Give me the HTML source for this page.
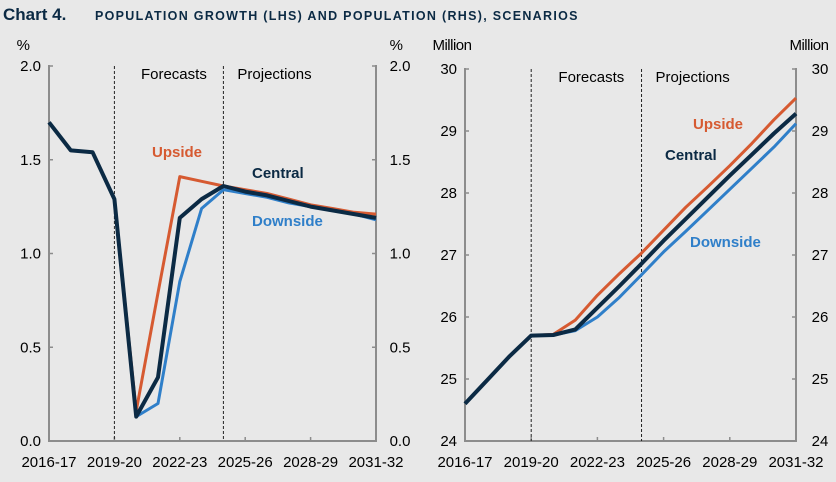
<!DOCTYPE html>
<html><head><meta charset="utf-8">
<style>
body{margin:0;background:#e8e8e8;}
svg{display:block;font-family:"Liberation Sans",Arial,sans-serif;}
.t{font-size:15px;fill:#000}
</style></head>
<body>
<svg id="c" width="836" height="482" viewBox="0 0 836 482">
<rect width="836" height="482" fill="#e8e8e8"/>
<text x="3" y="20" font-size="17" font-weight="bold" fill="#0b2a44">Chart 4.</text>
<text x="95" y="20" font-size="12.5" font-weight="bold" fill="#0b2a44" letter-spacing="1.3">POPULATION GROWTH (LHS) AND POPULATION (RHS), SCENARIOS</text>
<g id="L"></g>
<g id="R"></g>
</svg>
<script>
const years=["2016-17","2017-18","2018-19","2019-20","2020-21","2021-22","2022-23","2023-24","2024-25","2025-26","2026-27","2027-28","2028-29","2029-30","2030-31","2031-32"];
const xTickLabels=["2016-17","2019-20","2022-23","2025-26","2028-29","2031-32"];
const growthTicks=["0.0","0.5","1.0","1.5","2.0"];
const popTicks=["24","25","26","27","28","29","30"];
const growthCentral=[1.70,1.55,1.54,1.29,0.13,0.34,1.19,1.29,1.36,1.33,1.31,1.28,1.25,1.23,1.21,1.19];
const growthUpside=[null,null,null,1.29,0.16,0.79,1.41,1.385,1.36,1.34,1.32,1.29,1.26,1.24,1.22,1.21];
const growthDownside=[null,null,null,1.29,0.13,0.20,0.85,1.24,1.34,1.32,1.30,1.27,1.25,1.23,1.21,1.18];
const popCentral=[24.60,24.98,25.36,25.70,25.71,25.80,26.15,26.50,26.86,27.23,27.58,27.93,28.28,28.62,28.96,29.28];
const popUpside=[null,null,null,25.70,25.72,25.95,26.35,26.70,27.03,27.40,27.77,28.10,28.44,28.80,29.18,29.53];
const popDownside=[null,null,null,25.70,25.71,25.78,26.00,26.32,26.68,27.05,27.38,27.72,28.06,28.40,28.74,29.12];
const NS="http://www.w3.org/2000/svg";
function mk(p,tag,a,txt){const e=document.createElementNS(NS,tag);for(const k in a)e.setAttribute(k,a[k]);if(txt!=null)e.textContent=txt;p.appendChild(e);return e;}
function panel(g,x0,x1,y0,y1,vmin,vmax,ticks,unit,series,labels){
  const xs=i=>x0+i*(x1-x0)/(years.length-1);
  const ys=v=>y1-(v-vmin)/(vmax-vmin)*(y1-y0);
  const ax=mk(g,'path',{d:`M${x0},${y0-1}V${y1}H${x1}V${y0-1}`,stroke:'#8c8c8c','stroke-width':2,fill:'none'});
  
  
  ticks.forEach(t=>{const y=ys(+t);
    mk(g,'line',{x1:x0,x2:x0+4,y1:y,y2:y,stroke:'#8c8c8c','stroke-width':1.5});
    mk(g,'line',{x1:x1-4,x2:x1,y1:y,y2:y,stroke:'#8c8c8c','stroke-width':1.5});
    const a=mk(g,'text',{x:x0-8,y:y+5,'text-anchor':'end',class:'t'},t);
    
    
    const b=mk(g,'text',{x:x1+24,y:y+5,'text-anchor':'middle',class:'t'},t);
    
    
  });
  const u1=mk(g,'text',{x:unit[1],y:50,'text-anchor':'middle',class:'t','letter-spacing':'-0.5'},unit[0]);
  
  
  const u2=mk(g,'text',{x:unit[2],y:50,'text-anchor':'middle',class:'t','letter-spacing':'-0.5'},unit[0]);
  
  
  xTickLabels.forEach(l=>{const i=years.indexOf(l);const x=xs(i);
    if(i>0&&i<years.length-1)mk(g,'line',{x1:x,x2:x,y1:y1,y2:y1-4,stroke:'#8c8c8c','stroke-width':1.5});
    const t=mk(g,'text',{x:x,y:y1+26,'text-anchor':'middle',class:'t'},l);
    
    
  });
  [3,8].forEach(i=>{const d=mk(g,'line',{x1:xs(i),x2:xs(i),y1:y0,y2:y1,stroke:'#222','stroke-width':1,'stroke-dasharray':'3,2'});
    
    });
  const f=mk(g,'text',{x:(xs(3)+xs(8))/2+5,y:y0+13,'text-anchor':'middle',class:'t'},'Forecasts');
  
  
  const p=mk(g,'text',{x:xs(8)+14,y:y0+13,class:'t'},'Projections');
  
  
  series.forEach(s=>{let d='';s.v.forEach((v,i)=>{if(v==null)return;d+=(d?'L':'M')+xs(i).toFixed(1)+','+ys(v).toFixed(1);});
    const l=mk(g,'path',{d:d,stroke:s.c,'stroke-width':s.w,fill:'none','stroke-linejoin':'round'});
    
    });
  labels.forEach(b=>{const t=mk(g,'text',{x:b.x,y:b.y,fill:b.c,'font-size':15,'font-weight':'bold'},b.t);
    
    });
}
panel(document.getElementById('L'),49,376,66,441,0,2,growthTicks,['%',23,396],
 [{v:growthDownside,c:'#2f7fc9',w:3,n:'downside'},{v:growthUpside,c:'#d65a31',w:3,n:'upside'},{v:growthCentral,c:'#0b2a44',w:4,n:'central'}],
 [{t:'Upside',x:152,y:157,c:'#d65a31'},{t:'Central',x:252,y:178,c:'#0b2a44'},{t:'Downside',x:252,y:226,c:'#2f7fc9'}]);
panel(document.getElementById('R'),465,796,69,441,24,30,popTicks,['Million',452,809],
 [{v:popDownside,c:'#2f7fc9',w:3,n:'downside'},{v:popUpside,c:'#d65a31',w:3,n:'upside'},{v:popCentral,c:'#0b2a44',w:4,n:'central'}],
 [{t:'Upside',x:693,y:129,c:'#d65a31'},{t:'Central',x:665,y:160,c:'#0b2a44'},{t:'Downside',x:690,y:247,c:'#2f7fc9'}]);
</script>
</body></html>
